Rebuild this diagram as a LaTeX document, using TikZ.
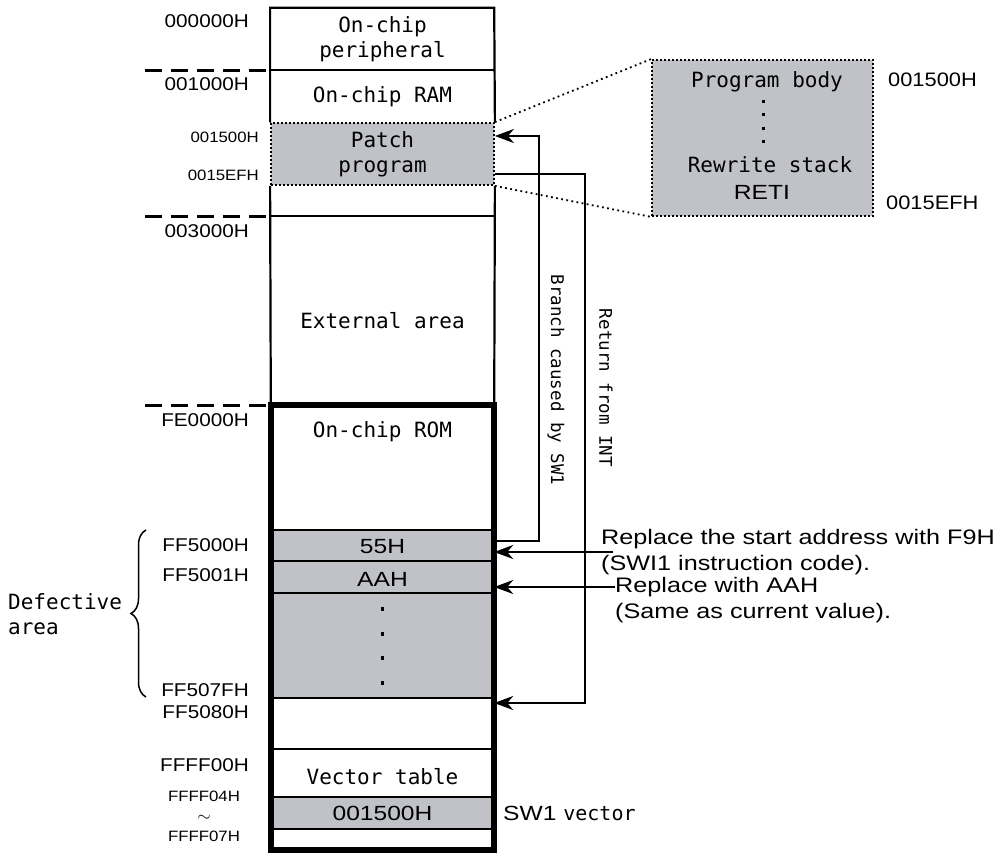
\documentclass[tikz,border=0pt]{standalone}
\usepackage{fontspec}
\usepackage{tikz}
\usetikzlibrary{arrows.meta,decorations.pathreplacing}
\newfontfamily\gothic{DejaVu Sans Mono}
\newfontfamily\arial[FakeStretch=1.12]{Liberation Sans}
\newfontfamily\widearial[FakeStretch=1.2]{Liberation Sans}
\definecolor{memgray}{RGB}{192,194,200}

\begin{document}
\begin{tikzpicture}[x=1pt, y=-1pt, >={Stealth[length=19pt,width=14pt,inset=6pt]},
  cell/.style={minimum width=223pt, inner sep=0pt, align=center, font={\gothic\fontsize{21}{25}\selectfont}},
  gothictext/.style={inner sep=0pt, align=center, font={\gothic\fontsize{21}{25}\selectfont}},
  rotext/.style={inner sep=0pt, rotate=-90, font={\gothic\fontsize{17.5}{20}\selectfont}},
  addr/.style={inner sep=0pt, anchor=east, font={\arial\fontsize{18.5}{21}\selectfont}},
  smalladdr/.style={inner sep=0pt, font={\arial\fontsize{15}{17}\selectfont}},
  value/.style={inner sep=0pt, font={\widearial\fontsize{20.5}{24}\selectfont}},
  note/.style={inner sep=0pt, anchor=west, align=left, font={\widearial\fontsize{21}{26}\selectfont}},
  dotbox/.style={draw, line width=1.8pt, dash pattern=on 1.6pt off 2.4pt, fill=memgray},
  frame/.style={line width=2.2pt},
  divider/.style={line width=2pt},
  thickframe/.style={line width=6pt},
  sep/.style={line width=3pt, dash pattern=on 17pt off 9pt},
  link/.style={line width=1.8pt, dash pattern=on 1.8pt off 3.4pt},
  flow/.style={->, line width=2pt}]
  \useasboundingbox (0,0) rectangle (1005,857);
  % Upper part of the map.
  \node[cell, minimum height=62pt] (periph) at (382.5,39) {On-chip\\peripheral};
  \node[cell, minimum height=53pt] (ram) at (382.5,96.5) {On-chip RAM};
  \node[cell, minimum height=62pt, dotbox] (patch) at (382.5,154) {Patch\\program};
  \node[cell, minimum height=31pt] (gap1) at (382.5,200.5) {};
  \node[cell, minimum height=189pt] (ext) at (382.5,310.5) {};
  \node[gothictext] (exttext) at (382.5,321) {External area};
  \draw[frame] (patch.north west) |- (periph.north east) -- (patch.north east);
  \draw[frame] (patch.south west) -- (ext.south west);
  \draw[frame] (patch.south east) -- (ext.south east);
  \draw[frame] (ram.north west) -- (ram.north east);
  \draw[frame] (ext.north west) -- (ext.north east);
  % On-chip ROM.
  \node[cell, minimum height=125pt] (rom) at (382.5,467.5) {};
  \node[gothictext] (romtext) at (382.5,432) {On-chip ROM};
  \node[cell, minimum height=31pt, fill=memgray] (b55) at (382.5,545.5) {};
  \node[value] (v55) at (382.5,547) {55H};
  \node[cell, minimum height=32pt, fill=memgray] (bAA) at (382.5,577) {};
  \node[value] (vAA) at (382.5,579) {AAH};
  \node[cell, minimum height=105pt, fill=memgray] (bdots) at (382.5,645.5) {};
  \foreach \y in {609,634,658,683} { \fill (380.7,\y-1.8) rectangle ++(3.6,3.6); }
  \node[cell, minimum height=51pt] (gap2) at (382.5,723.5) {};
  \node[cell, minimum height=48pt] (vect) at (382.5,773) {};
  \node[gothictext] (vecttext) at (382.5,777) {Vector table};
  \node[cell, minimum height=32pt, fill=memgray] (vec) at (382.5,813) {};
  \node[value] (vvec) at (382.5,813) {001500H};
  \node[cell, minimum height=21pt] (gap3) at (382.5,839.5) {};
  \foreach \c in {b55,bAA,bdots,gap2,vect,vec,gap3} { \draw[divider] (\c.north west) -- (\c.north east); }
  \draw[thickframe] (rom.north west) rectangle (gap3.south east);
  % Boundaries and addresses.
  \foreach \y in {70,216,405} { \draw[sep] (145,\y) -- (266,\y); }
  \foreach \a/\y in {000000H/21,001000H/84,003000H/231,FE0000H/420,FF5000H/545,FF5001H/575,FF507FH/690,FF5080H/712,FFFF00H/765}
    { \node[addr] (addr\a) at (249,\y) {\a}; }
  \node[smalladdr, anchor=east] (addr1500) at (259,137) {001500H};
  \node[smalladdr, anchor=east] (addr15EF) at (259,175) {0015EFH};
  \node[smalladdr, align=center, font={\arial\fontsize{15}{20}\selectfont}] (addrvec) at (204,816)
    {FFFF04H\\{\fontsize{19}{20}\selectfont$\sim$}\\FFFF07H};
  % Defective area.
  \draw[line width=1.5pt, decorate, decoration={brace, amplitude=15pt}] (146,697) -- (146,530);
  \node[gothictext, anchor=west, align=left] (defect) at (8,614) {Defective\\area};
  % Patch program detail.
  \node[dotbox, minimum width=221pt, minimum height=156pt] (detail) at (762.5,138) {};
  \node[gothictext] (body) at (767,82) {Program body};
  \foreach \y in {101,114,128,141} { \fill (761.5,\y-1.5) rectangle ++(3,3); }
  \node[gothictext] (rewrite) at (770,165) {Rewrite stack};
  \node[value] (reti) at (762,192) {RETI};
  \node[addr, anchor=west, font={\arial\fontsize{19.5}{22}\selectfont}] (det1500) at (888,80) {001500H};
  \node[addr, anchor=west, font={\arial\fontsize{19.5}{22}\selectfont}] (det15EF) at (886,203) {0015EFH};
  \draw[link] (patch.north east) -- (detail.north west);
  \draw[link] (patch.south east) -- (detail.south west);
  % Branch and return.
  \draw[flow] ([yshift=4.5pt]b55.east) -- ++(45,0) |- ([yshift=18pt]patch.east);
  \draw[flow] ([yshift=-20pt]patch.east) -- ++(90,0) |- ([yshift=20.5pt]gap2.east);
  \node[rotext] (branchlabel) at (556,380) {Branch caused by SW1};
  \node[rotext] (returnlabel) at (606,388) {Return from INT};
  % Rewrites.
  \node[note] (rep1) at (601,552) {Replace the start address with F9H\\(SWI1 instruction code).};
  \draw[flow] ([xshift=12pt]rep1.west) -- (rep1.west -| b55.east);
  \node[note] (rep2) at (615,600) {Replace with AAH\\(Same as current value).};
  \coordinate (aain) at ([yshift=13pt]rep2.west);
  \draw[flow] (aain) -- (aain -| bAA.east);
  \node[value, anchor=west] (swvec) at (503,813) {SW1 {\gothic\fontsize{20}{24}\selectfont vector}};
\end{tikzpicture}
\end{document}
